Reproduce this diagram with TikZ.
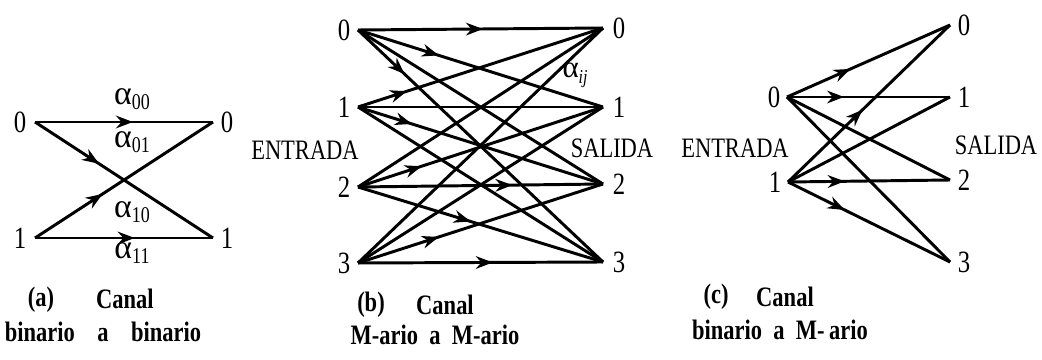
\documentclass[tikz,border=0pt]{standalone}
\usepackage{fontspec}
\setmainfont[FakeStretch=0.8]{Liberation Serif}
\newfontfamily\grk{Liberation Serif}
\usepackage{tikz}
\usetikzlibrary{arrows.meta,decorations.markings}

\newcommand{\alab}[1]{{\grk\fontsize{24}{24}\selectfont α}\raisebox{-0.4ex}{\fontsize{16}{16}\selectfont #1}}

\tikzset{
  chan/.style={line width=2.1pt},
  arr/.style={postaction={decorate},
    decoration={markings,mark=at position #1 with {\arrow{Stealth[length=12pt,width=9pt]}}}},
  lab/.style={font=\fontsize{22}{24}\selectfont,inner sep=0pt},
  txt/.style={font=\fontsize{20}{22}\selectfont,inner sep=0pt},
  capt/.style={font=\fontsize{20}{22}\selectfont\bfseries,inner sep=0pt},
}

\begin{document}
\begin{tikzpicture}[x=0.025cm,y=-0.025cm]
\useasboundingbox (0,0) rectangle (1042,360);

% (a) binario a binario
\coordinate (ai0) at (35,122);  \coordinate (ai1) at (35,238);
\coordinate (ao0) at (213,122); \coordinate (ao1) at (213,238);
\foreach \k in {0,1}{
  \node[lab] (la-i\k) at (20,{122+116*\k}) {\k};
  \node[lab] (la-o\k) at (227,{122+116*\k}) {\k};
}
\draw[chan,arr=0.55] (ai0) -- (ao0);
\draw[chan,arr=0.36] (ai0) -- (ao1);
\draw[chan,arr=0.38] (ai1) -- (ao0);
\draw[chan,arr=0.56] (ai1) -- (ao1);
\node[lab] (a00) at (132,99) {\alab{00}};
\node[lab] (a01) at (132,142) {\alab{01}};
\node[lab] (a10) at (132,212) {\alab{10}};
\node[lab] (a11) at (132,253) {\alab{11}};

% (b) M-ario a M-ario
\foreach \k/\yi/\yo in {0/30/28,1/107/107,2/187/184,3/263/262}{
  \coordinate (bi\k) at (358,\yi);
  \coordinate (bo\k) at (603,\yo);
  \node[lab] (lb-i\k) at (344,\yi) {\k};
  \node[lab] (lb-o\k) at (619,\yo) {\k};
}
\foreach \i/\j in {0/2,1/1,1/3,2/0,3/0,3/1}
  \draw[chan] (bi\i) -- (bo\j);
\foreach \i/\j/\p in {0/0/0.51,0/1/0.33,0/3/0.19,1/0/0.2,1/2/0.22,
                      2/1/0.26,2/2/0.63,2/3/0.46,3/2/0.33,3/3/0.55}
  \draw[chan,arr=\p] (bi\i) -- (bo\j);
\node[lab] (aij) at (575,75) {{\grk α}\raisebox{-0.4ex}{\fontsize{14}{14}\selectfont\itshape ij}};
\node[txt] (entb) at (305,150) {ENTRADA};
\node[txt] (salb) at (612,148) {SALIDA};

% (c) binario a M-ario
\coordinate (ci0) at (787,97); \coordinate (ci1) at (788,182);
\foreach \k/\yo in {0/25,1/97,2/180,3/262}{
  \coordinate (co\k) at (950,\yo);
  \node[lab] (lc-o\k) at (964,\yo) {\k};
}
\node[lab] (lc-i0) at (774,97) {0};
\node[lab] (lc-i1) at (775,182) {1};
\draw[chan] (ci0) -- (co2);
\draw[chan] (ci0) -- (co3);
\draw[chan] (ci1) -- (co1);
\draw[chan,arr=0.39] (ci0) -- (co0);
\draw[chan,arr=0.35] (ci0) -- (co1);
\draw[chan,arr=0.46] (ci1) -- (co0);
\draw[chan,arr=0.35] (ci1) -- (co2);
\draw[chan,arr=0.35] (ci1) -- (co3);
\node[txt] (entc) at (735,148) {ENTRADA};
\node[txt] (salc) at (996,145) {SALIDA};

% captions
\node[capt] (capa) at (41,300) {(a)};
\node[capt] (cana) at (125,299) {Canal};
\node[capt] (capa2) at (103,332) {binario\hspace{0.8em}a\hspace{0.8em}binario};
\node[capt] (capb) at (371,305) {(b)};
\node[capt] (canb) at (445,305) {Canal};
\node[capt] (capb2) at (435,335) {M-ario\hspace{0.4em}a\hspace{0.4em}M-ario};
\node[capt] (capc) at (716,297) {(c)};
\node[capt] (canc) at (785,297) {Canal};
\node[capt] (capc2) at (780,330) {binario\hspace{0.4em}a\hspace{0.4em}M-\,ario};
\end{tikzpicture}
\end{document}
